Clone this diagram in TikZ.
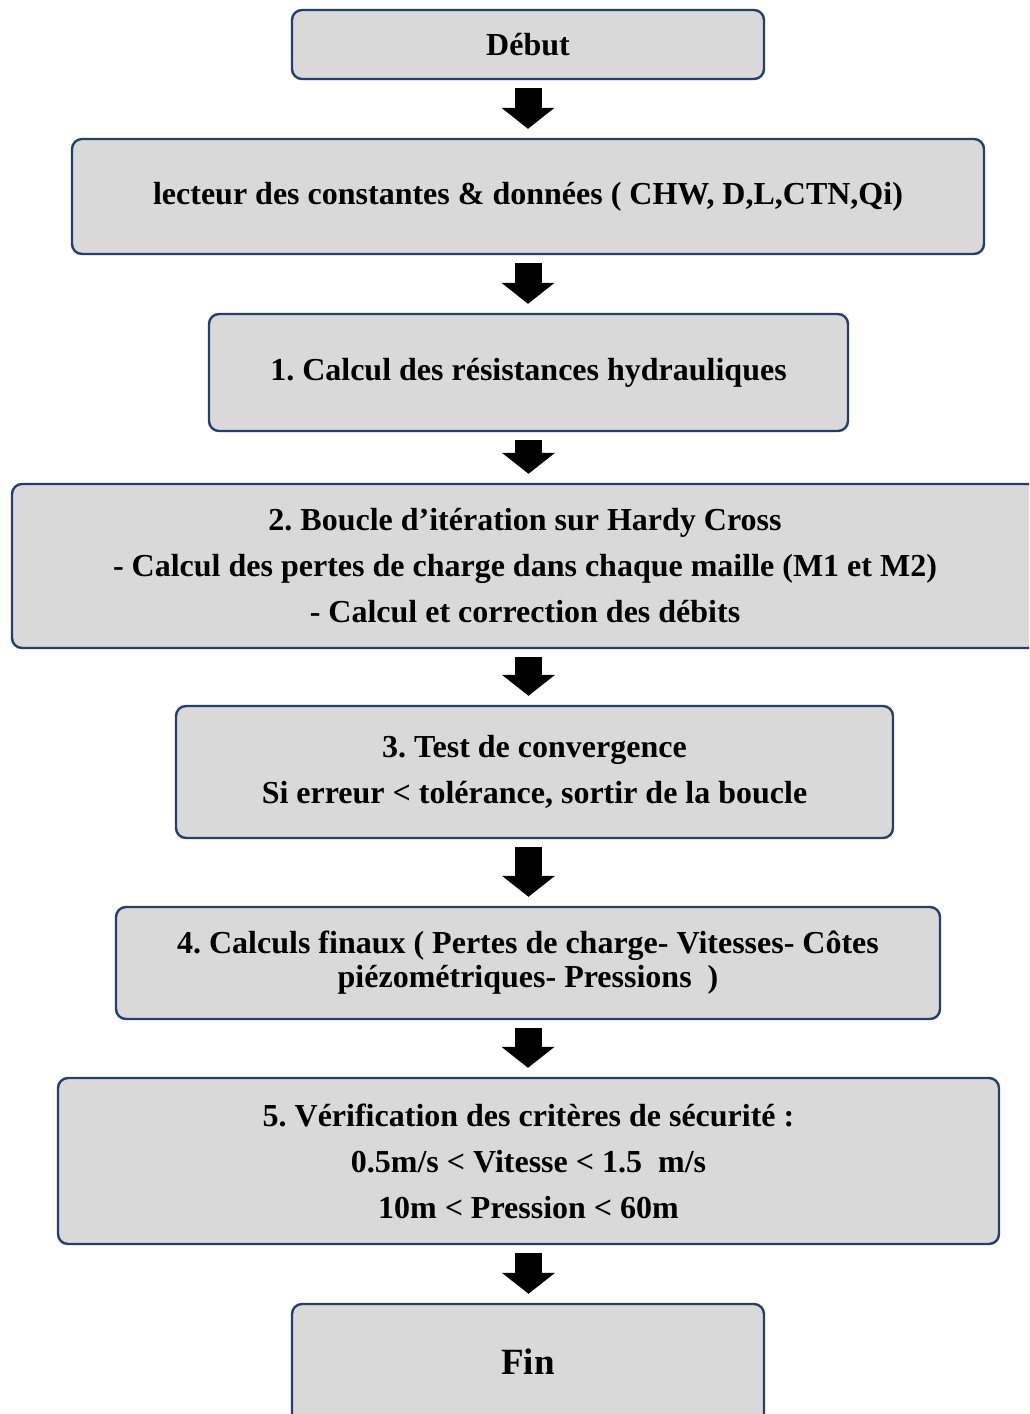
\documentclass[tikz,border=0pt]{standalone}
\usepackage{fontspec}
\setmainfont{Liberation Serif}
\usetikzlibrary{arrows.meta,calc}
\frenchspacing
\definecolor{boxfill}{RGB}{217,217,217}
\definecolor{boxdraw}{RGB}{38,62,105}
\tikzset{
  flowbox/.style={draw=boxdraw, line width=2.4pt, fill=boxfill, rounded corners=10pt,
    inner sep=0pt, align=center, font=\fontsize{32}{46}\selectfont\bfseries\frenchspacing},
  flowarrow/.style={line width=27pt, -{Triangle[width=52pt,length=21pt]}, shorten <=8pt, shorten >=9pt}
}
\begin{document}
\begin{tikzpicture}[x=1pt,y=-1pt]
\useasboundingbox (0,0) rectangle (1029,1414);
\begin{scope}
\clip (0,0) rectangle (1029,1414);
\node[flowbox, minimum width=472pt, minimum height=69pt] (debut) at (528,44.5) {Début};
\node[flowbox, minimum width=912pt, minimum height=115pt] (lect) at (528,196.5) {lecteur des constantes \& données ( CHW, D,L,CTN,Qi)};
\node[flowbox, minimum width=639pt, minimum height=117pt] (s1) at (528.5,372.5) {1. Calcul des résistances hydrauliques};
\node[flowbox, minimum width=1026pt, minimum height=164pt] (s2) at (525,566) {2. Boucle d’itération sur Hardy Cross\\- Calcul des pertes de charge dans chaque maille (M1 et M2)\\- Calcul et correction des débits};
\node[flowbox, minimum width=717pt, minimum height=132pt] (s3) at (534.5,772) {3. Test de convergence\\Si erreur < tolérance, sortir de la boucle};
\node[flowbox, minimum width=824pt, minimum height=112pt, font=\fontsize{32}{34}\selectfont\bfseries\frenchspacing] (s4) at (528,963) {4. Calculs finaux ( Pertes de charge- Vitesses- Côtes\\piézométriques- Pressions\ \ )};
\node[flowbox, minimum width=941pt, minimum height=166pt] (s5) at (528.5,1161) {5. Vérification des critères de sécurité :\\0.5m/s < Vitesse < 1.5\ \ m/s\\10m < Pression < 60m};
\node[flowbox, minimum width=472pt, minimum height=130pt, text depth=0pt] (fin) at (528,1369) {};
\node[font=\fontsize{37}{40}\selectfont\bfseries] (fintxt) at (528,1362) {Fin};
\draw[flowarrow] (debut.south) -- (debut.south |- lect.north);
\draw[flowarrow] (lect.south) -- (lect.south |- s1.north);
\draw[flowarrow] (s1.south) -- (s1.south |- s2.north);
\draw[flowarrow] (s1.south |- s2.south) -- (s1.south |- s3.north);
\draw[flowarrow] (s1.south |- s3.south) -- (s1.south |- s4.north);
\draw[flowarrow] (s4.south) -- (s4.south |- s5.north);
\draw[flowarrow] (s5.south) -- (s5.south |- fin.north);
\end{scope}
\end{tikzpicture}
\end{document}
